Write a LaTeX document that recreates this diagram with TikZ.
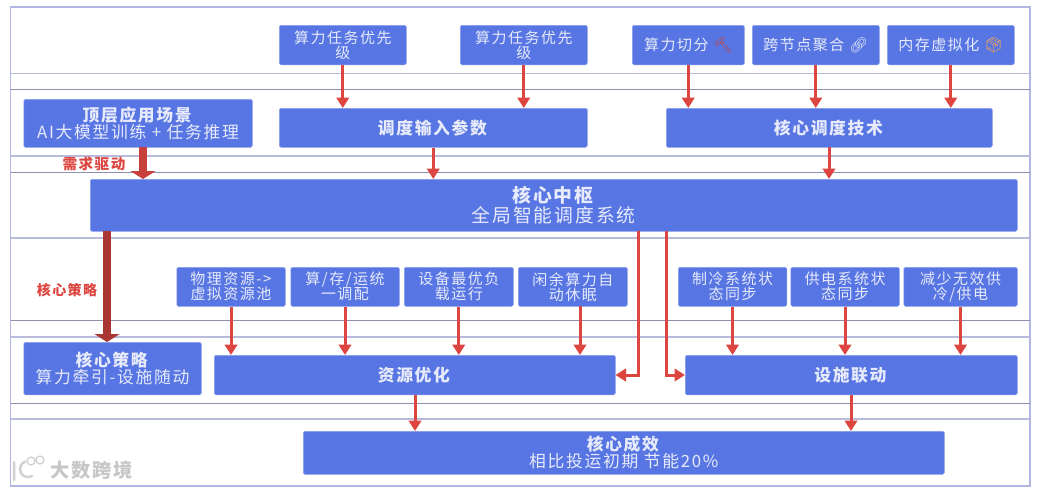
\documentclass[tikz,border=0pt]{standalone}
\usepackage{fontspec}
\setmainfont[LetterSpace=10]{Noto Sans CJK SC}
\newfontfamily\emojifont{Noto Emoji}
\usetikzlibrary{arrows.meta}
\definecolor{boxblue}{HTML}{5876E3}
\definecolor{arrowred}{HTML}{DD4640}
\definecolor{darkred}{HTML}{C8403C}
\definecolor{framecol}{HTML}{B4B6E2}
\definecolor{rulea}{HTML}{B9BBDD}
\definecolor{ruleb}{HTML}{8E90AE}
\definecolor{boxtext}{HTML}{E6EAFB}
\tikzset{
  bx/.style={fill=boxblue,draw=boxblue!70!white,line width=.5pt,rounded corners=1.5pt,inner sep=0pt,
    text=boxtext,align=center,anchor=north west},
  small/.style={bx,font=\fontsize{15}{20}\selectfont},
  head/.style={bx,font=\fontsize{16.8}{23}\selectfont},
  sz/.style 2 args={minimum width=#1pt,minimum height=#2pt},
  flow/.style={draw=arrowred,line width=3pt,-{Triangle[width=12.5pt,length=10.5pt]}},
  bigflow/.style={draw=darkred,line width=8.5pt,-{Triangle[width=25pt,length=8pt]}},
  note/.style={text=arrowred,inner sep=0pt},
  rowa/.style={draw=rulea,line width=1.2pt},
  rowb/.style={draw=ruleb,line width=1pt},
}
\begin{document}
\begin{tikzpicture}[x=1pt,y=-1pt]
\useasboundingbox (0,0) rectangle (1042,490);
% swimlane frame and rules
\draw[draw=framecol,line width=1.3pt,fill=white] (10.5,7) rectangle (1030,486);
\foreach \yy in {73.5,156,238,337,419}{\draw[rowa] (10.5,\yy) -- (1030,\yy);}
\foreach \yy in {89.5,172.5,320.5,403.5}{\draw[rowb] (10.5,\yy) -- (1030,\yy);}
% row 1
\node[small,sz={127}{39.5}] (p1) at (279,25) {算力任务优先\\[-5pt]级};
\node[small,sz={127}{39.5}] (p2) at (460,25) {算力任务优先\\[-5pt]级};
\node[small,sz={112}{39.5}] (t1) at (632,25) {算力切分 {\emojifont\textcolor{darkred}{🔨}}};
\node[small,sz={127}{39.5}] (t2) at (752,25) {跨节点聚合 {\emojifont\textcolor{boxtext}{🔗}}};
\node[small,sz={127}{39.5}] (t3) at (887,25) {内存虚拟化 {\emojifont\textcolor{orange!70!white}{📦}}};
% row 2
\node[head,sz={228.5}{48}] (scene) at (23.5,99) {\textbf{顶层应用场景}\\[-6pt]AI大模型训练 + 任务推理};
\node[head,sz={308}{39}] (input) at (279,108) {\textbf{调度输入参数}};
\node[head,sz={326}{39}] (tech) at (666,108) {\textbf{核心调度技术}};
% hub
\node[bx,font=\fontsize{18.8}{25}\selectfont,sz={927}{52}] (hub) at (90,179) {\textbf{核心中枢}\\[-5pt]全局智能调度系统};
% row 3
\node[small,sz={108.5}{39}] (r1) at (176.5,267) {物理资源->\\[-5pt]虚拟资源池};
\node[small,sz={108.5}{39}] (r2) at (290.5,267) {算/存/运统\\[-5pt]一调配};
\node[small,sz={109}{39}] (r3) at (404,267) {设备最优负\\[-5pt]载运行};
\node[small,sz={109}{39}] (r4) at (518,267) {闲余算力自\\[-5pt]动休眠};
\node[small,sz={108.5}{39}] (f1) at (678,267) {制冷系统状\\[-5pt]态同步};
\node[small,sz={108.5}{39}] (f2) at (790.5,267) {供电系统状\\[-5pt]态同步};
\node[small,sz={113.5}{39}] (f3) at (903.5,267) {减少无效供\\[-5pt]冷/供电};
% row 4
\node[head,sz={177.5}{52.5}] (strategy) at (23.5,342) {\textbf{核心策略}\\[-6pt]算力牵引-设施随动};
\node[head,sz={401}{39.5}] (res) at (214,355) {\textbf{资源优化}};
\node[head,sz={332}{39.5}] (fac) at (685,355) {\textbf{设施联动}};
% result
\node[head,sz={641}{43}] (result) at (303,431) {\textbf{核心成效}\\[-6pt]相比投运初期 节能20\%};
% free ends of connectors
\coordinate (sceneout) at (143,147);
\coordinate (hubleft) at (107,231);
\coordinate (hubres) at (638.5,231);
\coordinate (hubfac) at (666,231);
\coordinate (resout) at (415,394.5);
\coordinate (facout) at (851,394.5);
\coordinate (techhub) at (829,147);
\coordinate (r4out) at (580,306);
% connectors
\draw[flow] (p1.south) -- (p1.south |- input.north);
\draw[flow] (p2.south) -- (p2.south |- input.north);
\draw[flow] (t1.south) -- (t1.south |- tech.north);
\draw[flow] (t2.south) -- (t2.south |- tech.north);
\draw[flow] (t3.south) -- (t3.south |- tech.north);
\draw[flow] (input.south) -- (input.south |- hub.north);
\draw[flow] (techhub) -- (techhub |- hub.north);
\draw[bigflow] (sceneout) -- (sceneout |- hub.north);
\draw[bigflow,draw=darkred!85!black] (hubleft) -- (hubleft |- strategy.north);
\draw[flow] (r1.south) -- (r1.south |- res.north);
\draw[flow] (r2.south) -- (r2.south |- res.north);
\draw[flow] (r3.south) -- (r3.south |- res.north);
\draw[flow] (r4out) -- (r4out |- res.north);
\draw[flow] (f1.south) -- (f1.south |- fac.north);
\draw[flow] (f2.south) -- (f2.south |- fac.north);
\draw[flow] (f3.south) -- (f3.south |- fac.north);
\draw[flow] (hubres) |- (res.east);
\draw[flow] (hubfac) |- (fac.west);
\draw[flow] (resout) -- (resout |- result.north);
\draw[flow] (facout) -- (facout |- result.north);
% labels
\node[note,font=\fontsize{14.6}{18}\selectfont\bfseries] (n1) at (94,163.5) {需求驱动};
\node[note,font=\fontsize{14}{18}\selectfont\bfseries] (n2) at (67,290) {核心策略};
% watermark
\node[text=black!22,font=\fontsize{19.2}{24}\selectfont\bfseries,inner sep=0pt,anchor=west] (wm) at (50,470) {大数跨境};
\draw[black!18,line width=2.5pt,line cap=round] (14,462) -- (14,480) (32,476) arc[start angle=60,end angle=250,radius=8];
\draw[black!18,line width=1.3pt] (31,461) circle[radius=4] (40,460) circle[radius=4];
\end{tikzpicture}
\end{document}
